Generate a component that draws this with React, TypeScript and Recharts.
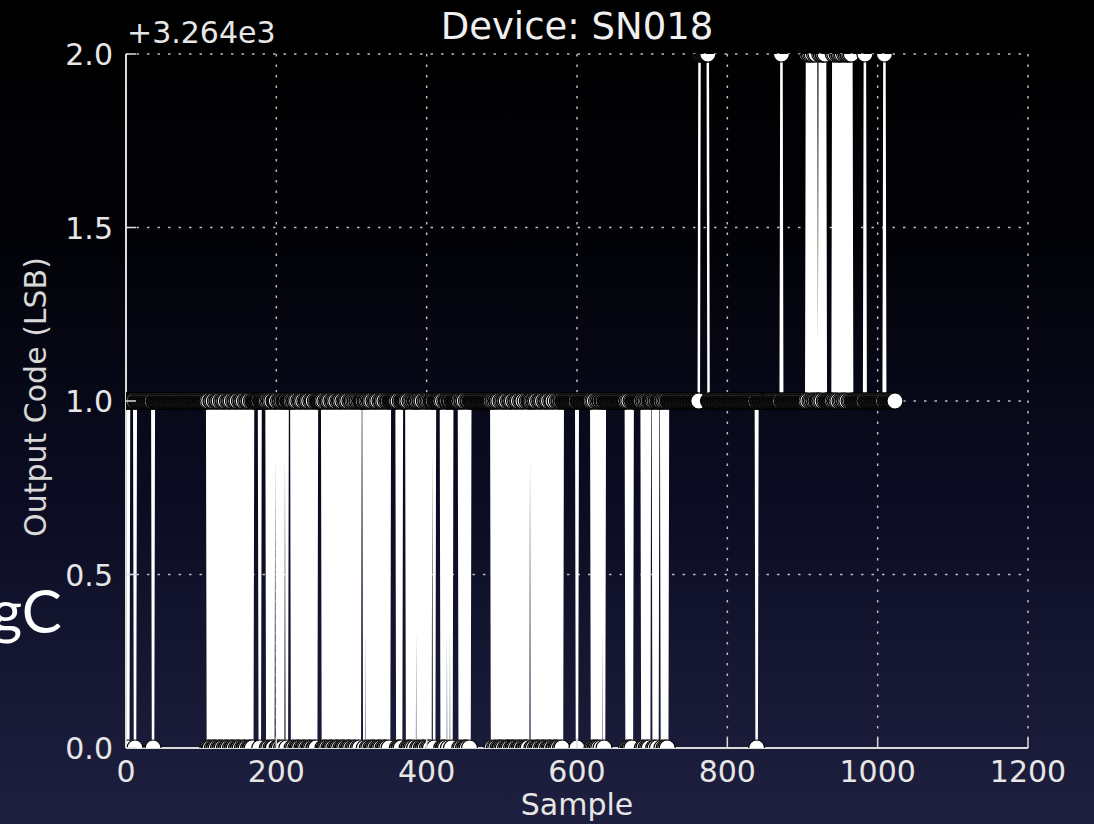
import React from 'react';
import { LineChart, Line, XAxis, YAxis, CartesianGrid } from 'recharts';

const W = 1094;
const H = 824;
const FONT = '"DejaVu Sans", sans-serif';
const INK = '#e6e6e6';
const TICK_LEN = 10;

// plot box inside the figure
const PLOT = { left: 126, top: 54, right: 1028, bottom: 748 };

// ADC output codes are plotted relative to this offset
const CODE_BASE = 3264;

const xTicks = [0, 200, 400, 600, 800, 1000, 1200];
const yTicks = [3264, 3264.5, 3265, 3265.5, 3266];

// Output code minus CODE_BASE for samples 0..1023, in order.
// A string lists one digit per sample (spaces are only for counting),
// a pair is a flat run: [digit, number of samples].
type Stretch = string | [string, number];
const codeStretches: Stretch[] = [
  '111', '0', ['1', 8], '0', ['1', 23], '0', ['1', 72],
  '0100110100 1011010010 1101001011 0100101101 0010110100 1011010010',
  ['1', 9], '0', ['1', 9], '010110100', ['1', 4], '001011010', ['1', 4], '0', ['1', 6],
  '0101101001 0110100101 1010010110 010',
  ['1', 8],
  '0100101101 0010110100 1011010010 1101001011 010',
  '101101011', '1110111',
  '0101101001 0110100101 1010010110',
  ['1', 10], '010010', ['1', 7], '01001010', '110111',
  '0101101001 011010',
  '1011110111', ['1', 6], '0100101', '11011101', ['1', 9],
  '0101101001 01101',
  ['1', 28],
  '0110101101 001',
  '0101101001 0110100101 1010010110 0100101',
  ['1', 3],
  '0101101001 0110100101 1010010110 0100101101 0',
  ['1', 18], '101', ['1', 18], '0101001010', '1101110111', ['1', 26],
  '010100101', ['1', 11], '1010110101 01', ['1', 3], '10101101', ['1', 4], '01101010',
  ['1', 42], ['2', 12], ['1', 64], '0', ['1', 32], '2', ['1', 33],
  '2122121211 2121', ['1', 3], '21212212', ['1', 10],
  '2121121221 2121121212 212121',
  ['1', 16], '2', ['1', 25], '2', ['1', 14],
];

const digits = codeStretches
  .map((s) => (typeof s === 'string' ? s.replace(/\s/g, '') : s[0].repeat(s[1])))
  .join('');

const rows = digits.split('').map((d, i) => ({ sample: i, code: CODE_BASE + Number(d) }));

const label = (v: number) => (v - CODE_BASE).toFixed(1);

// tick marks point into the plot on all four sides
const BottomTick = ({ x, y, payload }: any) => (
  <g>
    <line x1={x} y1={y} x2={x} y2={y - TICK_LEN} stroke="#dcdcdc" strokeWidth={1.5} />
    <text x={x} y={y + 34} textAnchor="middle" fill={INK} fontSize={30} fontFamily={FONT}>
      {payload.value}
    </text>
  </g>
);

const TopTick = ({ x, y }: any) => (
  <line x1={x} y1={y} x2={x} y2={y + TICK_LEN} stroke="#dcdcdc" strokeWidth={1.5} />
);

const LeftTick = ({ x, y, payload }: any) => (
  <g>
    <line x1={x} y1={y} x2={x + TICK_LEN} y2={y} stroke="#dcdcdc" strokeWidth={1.5} />
    <text x={x - 13} y={y + 11} textAnchor="end" fill={INK} fontSize={30} fontFamily={FONT}>
      {label(payload.value)}
    </text>
  </g>
);

const RightTick = ({ x, y }: any) => (
  <line x1={x} y1={y} x2={x - TICK_LEN} y2={y} stroke="#dcdcdc" strokeWidth={1.5} />
);

// open-circle marker, cut at the plot edges like the line itself
const Marker = (p: any) =>
  p.cx == null || p.cy == null ? null : (
    <circle
      key={`m-${p.index}`}
      cx={p.cx}
      cy={p.cy}
      r={8}
      fill="#ffffff"
      stroke="#000000"
      strokeWidth={1.2}
      clipPath="url(#plot-area)"
    />
  );

const frame = { stroke: '#dcdcdc', strokeWidth: 2 };

export default function App() {
  return (
    <div
      style={{
        position: 'absolute',
        left: 0,
        top: 0,
        width: W,
        height: H,
        overflow: 'hidden',
        background: 'linear-gradient(to bottom, #000000 0%, #020308 30%, #0b0c22 60%, #1f2040 100%)',
      }}
    >
      <svg width={0} height={0} style={{ position: 'absolute' }}>
        <defs>
          <clipPath id="plot-area">
            <rect
              x={PLOT.left}
              y={PLOT.top}
              width={PLOT.right - PLOT.left}
              height={PLOT.bottom - PLOT.top}
            />
          </clipPath>
        </defs>
      </svg>

      <LineChart
        width={W}
        height={H}
        data={rows}
        margin={{ top: PLOT.top, right: W - PLOT.right, bottom: 0, left: 0 }}
      >
        <CartesianGrid stroke="#bdbdbd" strokeWidth={1.5} strokeDasharray="2.5 8" />
        <XAxis
          dataKey="sample"
          type="number"
          domain={[0, 1200]}
          ticks={xTicks}
          interval={0}
          allowDataOverflow
          height={H - PLOT.bottom}
          tickSize={0}
          tickMargin={0}
          tickLine={false}
          axisLine={frame}
          tick={<BottomTick />}
        />
        <XAxis
          xAxisId="top"
          orientation="top"
          dataKey="sample"
          type="number"
          domain={[0, 1200]}
          ticks={xTicks}
          interval={0}
          height={0}
          tickSize={0}
          tickMargin={0}
          tickLine={false}
          axisLine={frame}
          tick={<TopTick />}
        />
        <YAxis
          type="number"
          domain={[3264, 3266]}
          ticks={yTicks}
          interval={0}
          allowDataOverflow
          width={PLOT.left}
          tickSize={0}
          tickMargin={0}
          tickLine={false}
          axisLine={frame}
          tick={<LeftTick />}
        />
        <YAxis
          yAxisId="right"
          orientation="right"
          type="number"
          domain={[3264, 3266]}
          ticks={yTicks}
          interval={0}
          width={0}
          tickSize={0}
          tickMargin={0}
          tickLine={false}
          axisLine={frame}
          tick={<RightTick />}
        />
        <Line
          dataKey="code"
          type="linear"
          stroke="#ffffff"
          strokeWidth={2.5}
          dot={Marker}
          isAnimationActive={false}
        />
      </LineChart>

      <svg
        width={W}
        height={H}
        style={{ position: 'absolute', left: 0, top: 0, pointerEvents: 'none' }}
      >
        <text x={-9} y={633} fill="#ffffff" fontSize={60} fontFamily="Lato, sans-serif">
          gC
        </text>
        <text x={577} y={39} textAnchor="middle" fill="#f0f0f0" fontSize={37} fontFamily={FONT}>
          Device: SN018
        </text>
        <text x={127} y={43} fill={INK} fontSize={30} fontFamily={FONT}>
          +3.264e3
        </text>
        <text x={577} y={815} textAnchor="middle" fill={INK} fontSize={30} fontFamily={FONT}>
          Sample
        </text>
        <text
          transform="translate(46 397) rotate(-90)"
          textAnchor="middle"
          fill="#d8d8d8"
          fontSize={30}
          fontFamily={FONT}
        >
          Output Code (LSB)
        </text>
      </svg>
    </div>
  );
}
